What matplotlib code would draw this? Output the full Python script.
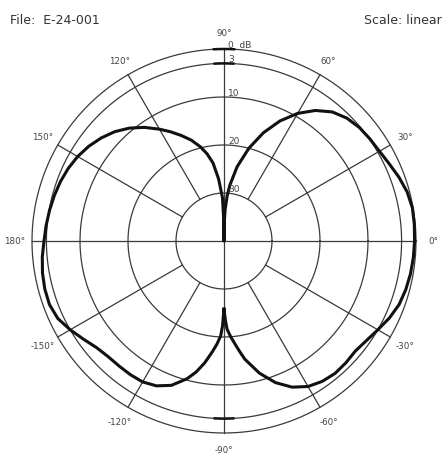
import numpy as np
import matplotlib
matplotlib.use("Agg")
import matplotlib.pyplot as plt

# ---- data (attenuation in dB vs. angle in degrees) ----
angle_deg = [-90, -89, -88, -86, -84, -82, -80, -75, -70, -65, -60, -55, -50, -45,
             -40, -35, -30, -25, -20, -15, -10, -5, 0, 5, 10, 15, 20, 25, 30, 35,
             40, 45, 50, 55, 60, 65, 70, 75, 80, 84, 86, 88, 89, 90, 91, 92, 95,
             98, 101, 104, 108, 112, 116, 120, 125, 130, 135, 140, 145, 150, 155,
             160, 165, 170, 175, 180, 185, 190, 195, 200, 205, 210, 215, 220, 225,
             230, 235, 240, 245, 250, 255, 258, 261, 264, 266, 268, 269, 270]
atten_db = [25.8, 23.5, 21.6, 20.0, 18.5, 16.8, 15.0, 11.5, 8.6, 6.4, 5.0, 4.3, 4.0, 4.1,
            4.3, 3.8, 3.0, 2.0, 1.2, 0.8, 0.55, 0.4, 0.3, 0.2, 0.15, 0.5, 1.2, 2.0, 2.6, 2.9,
            3.2, 3.8, 4.9, 6.8, 9.3, 12.4, 16.0, 20.0, 24.3, 28.3, 30.6, 33.5, 36.0, 40.0,
            35.0, 31.0, 27.0, 23.6, 21.5, 19.8, 17.9, 16.3, 14.7, 13.1, 11.1, 9.3, 7.8,
            6.6, 5.6, 4.8, 4.2, 3.75, 3.4, 3.1, 2.8, 2.5, 2.0, 1.6, 1.35, 1.3, 1.8, 3.0,
            4.3, 5.4, 5.9, 6.0, 6.0, 6.1, 6.7, 8.0, 10.3, 12.1, 14.3, 16.8, 18.4, 20.2,
            22.3, 25.8]

ring_db = [0, 3, 10, 20, 30]
ring_labels = ["0  dB", "3", "10", "20", "30"]
spoke_deg = [30, 60, 120, 150, -30, -60, -120, -150]
angle_label_deg = [90, 60, 30, 0, -30, -60, -90, -120, -150, 180, 150, 120]
angle_labels = ["90°", "60°", "30°", "0°", "-30°", "-60°", "-90°", "-120°",
                "-150°", "180°", "150°", "120°"]
DB_RANGE = 40.0

W, H = 444, 460
fig = plt.figure(figsize=(W / 100, H / 100), dpi=100)
cx, cy, R = 224, 242, 192
ax = fig.add_axes([(cx - R) / W, (H - cy - R) / H, 2 * R / W, 2 * R / H],
                  projection="polar")
ax.set_ylim(0, DB_RANGE)
ax.axis("off")

gc = "#3a3a3a"
glw = 0.9
full = np.linspace(0, 2 * np.pi, 721)
for d in ring_db:
    ax.plot(full, np.full_like(full, DB_RANGE - d), color=gc, lw=glw, clip_on=False)

for a in spoke_deg:
    t = np.deg2rad(a)
    ax.plot([t, t], [DB_RANGE - 30, DB_RANGE], color=gc, lw=glw, clip_on=False)
for a in [0, 90, 180, 270]:
    t = np.deg2rad(a)
    ax.plot([t, t], [0, DB_RANGE], color=gc, lw=glw, clip_on=False)

# thicker marks on the axis
for a, d in [(90, 0), (90, 3), (-90, 3)]:
    tt = np.deg2rad(np.linspace(a - 3, a + 3, 20))
    ax.plot(tt, np.full_like(tt, DB_RANGE - d), color="#111111", lw=1.8, clip_on=False)

# pattern
th = np.deg2rad(np.array(angle_deg))
rr = DB_RANGE - np.array(atten_db)
ax.plot(th, rr, color="#111111", lw=2.2, solid_joinstyle="round", clip_on=False)

tc = "#444444"
for d, lab in zip(ring_db, ring_labels):
    ax.annotate(lab, xy=(np.pi / 2, DB_RANGE - d), xytext=(3, 0.3),
                textcoords="offset points", ha="left", va="bottom",
                fontsize=6.5, color=tc)

for a, lab in zip(angle_label_deg, angle_labels):
    ax.text(np.deg2rad(a), DB_RANGE * 209 / R, lab, ha="center", va="center",
            fontsize=6.3, color=tc, clip_on=False)

fig.text(10 / W, 1 - 20 / H, "File:  E-24-001", ha="left", va="center",
         fontsize=9, color="#333333")
fig.text(442 / W, 1 - 20 / H, "Scale: linear", ha="right", va="center",
         fontsize=9, color="#333333")

fig.savefig("out.png", dpi=100, facecolor="white")
